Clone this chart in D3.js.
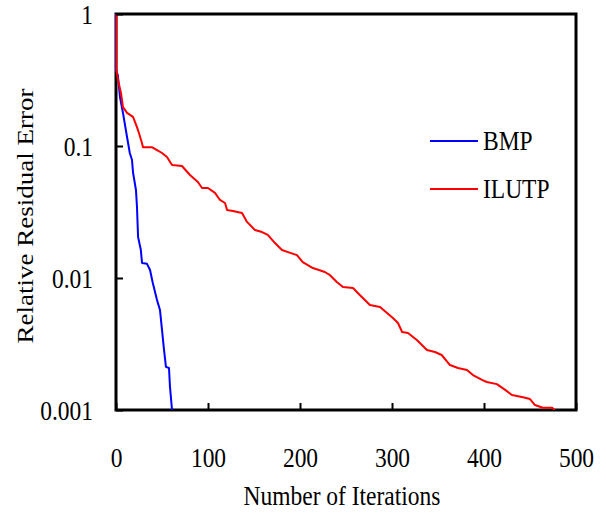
<!DOCTYPE html>
<html>
<head>
<meta charset="utf-8">
<script src="https://cdn.jsdelivr.net/npm/d3@7"></script>
<style>
  body { margin: 0; background: #fff; }
  svg text { font-family: "Liberation Serif", "Times New Roman", serif; fill: #000; }
</style>
</head>
<body>
<div id="chart"></div>
<script>
  // iterations / relative residual error
  var bmpIter = [0, 0, 2, 4.3, 7.6, 12, 15, 17.4, 18.5, 21.7, 22.8, 24, 27, 28.3, 33.7, 37, 40, 44.6, 47.8, 50, 52.2, 54.3, 57.6, 58.7, 60.9];
  var bmpErr = [1, 0.376, 0.345, 0.235, 0.178, 0.117, 0.0885, 0.0783, 0.063, 0.0464, 0.0345, 0.0205, 0.0163, 0.013, 0.0128, 0.0115, 0.00917, 0.0068, 0.00573, 0.00404, 0.00285, 0.00212, 0.00208, 0.00149, 0.001];

  var ilutpIter = [0.5, 0.5, 2.2, 5.4, 7.6, 12, 18.5, 22.8, 25, 28.3, 29.3, 39, 44.6, 50, 55.4, 60.9, 71.7, 80.4, 89, 93.5, 100,
    107.6, 113, 118.5, 120.7, 127, 137, 142.4, 151, 158.7, 165, 172.8, 180.4, 187, 196.7, 203, 214, 227, 232.6, 240,
    246.7, 257.6, 265, 276, 287, 294.6, 301, 306.5, 311, 317.4, 327, 338, 346.7, 354, 363, 371.7, 381.5, 388, 397.8,
    403, 414, 423, 430.4, 442.4, 450, 455.4, 464, 474, 477];
  var ilutpErr = [1, 0.376, 0.316, 0.252, 0.197, 0.178, 0.166, 0.139, 0.125, 0.105, 0.098, 0.098, 0.093, 0.0885, 0.0826, 0.0718, 0.0705, 0.0603, 0.0534, 0.0481, 0.0481,
    0.0441, 0.039, 0.037, 0.0327, 0.0322, 0.0311, 0.0266, 0.0231, 0.0223, 0.0212, 0.0184, 0.0163, 0.0157, 0.0149, 0.0132, 0.0119, 0.0111, 0.0105, 0.00933,
    0.00855, 0.0084, 0.00743, 0.00624, 0.00603, 0.00543, 0.00498, 0.00456, 0.0039, 0.00383, 0.00339, 0.00285, 0.00275, 0.00261, 0.00219, 0.00208, 0.00201, 0.00184, 0.00169,
    0.00163, 0.00157, 0.00142, 0.0013, 0.00125, 0.00121, 0.00109, 0.00104, 0.00104, 0.001];

  var seriesNames = ["BMP", "ILUTP"];
  var seriesColors = ["#0000ff", "#ff0000"];
  var xTicks = [0, 100, 200, 300, 400, 500];
  var yTicks = [1, 0.1, 0.01, 0.001];

  var width = 606, height = 514;
  var margin = {top: 14, right: 30, bottom: 104, left: 116};
  var w = width - margin.left - margin.right;
  var h = height - margin.top - margin.bottom;

  // the original text looks squeezed sideways (Times, narrow), so scale x a bit
  var fontSize = 27;
  var squeeze = 0.87;

  var svg = d3.select("#chart").append("svg")
    .attr("width", width)
    .attr("height", height);

  var g = svg.append("g")
    .attr("transform", "translate(" + margin.left + "," + margin.top + ")");

  var x = d3.scaleLinear().domain([0, 500]).range([0, w]);
  var y = d3.scaleLog().domain([0.001, 1]).range([h, 0]);

  g.append("clipPath").attr("id", "clip")
    .append("rect").attr("x", -1).attr("y", -1).attr("width", w + 2).attr("height", h + 1);

  // frame
  g.append("rect")
    .attr("width", w).attr("height", h)
    .attr("fill", "none").attr("stroke", "#000").attr("stroke-width", 3);

  var series = [
    bmpIter.map(function (d, i) { return [d, bmpErr[i]]; }),
    ilutpIter.map(function (d, i) { return [d, ilutpErr[i]]; })
  ];

  var line = d3.line()
    .x(function (d) { return x(d[0]); })
    .y(function (d) { return y(d[1]); });

  g.append("g").attr("clip-path", "url(#clip)")
    .selectAll("path")
    .data(series)
    .enter().append("path")
    .attr("d", line)
    .attr("fill", "none")
    .attr("stroke", function (d, i) { return seriesColors[i]; })
    .attr("stroke-width", 2)
    .attr("stroke-linejoin", "round");

  // axes, ticks point inward
  var xAxis = g.append("g")
    .attr("transform", "translate(0," + h + ")")
    .call(d3.axisBottom(x).tickValues(xTicks).tickSize(-7).tickPadding(0).tickFormat(d3.format("d")));
  var yAxis = g.append("g")
    .call(d3.axisLeft(y).tickValues(yTicks).tickSize(-7).tickPadding(0).tickFormat(function (d) { return String(d); }));

  [xAxis, yAxis].forEach(function (a) {
    a.select(".domain").remove();
    a.selectAll("line").attr("stroke", "#000").attr("stroke-width", 2);
    a.selectAll("text")
      .attr("font-size", fontSize)
      .attr("font-family", "Liberation Serif")
      .attr("fill", "#000")
      .attr("x", null).attr("y", null).attr("dy", null);
  });

  xAxis.selectAll(".tick text")
    .attr("text-anchor", "middle")
    .attr("transform", "translate(0,57) scale(" + squeeze + ",1)");
  yAxis.selectAll(".tick text")
    .attr("text-anchor", "end")
    .attr("transform", "translate(-23,9) scale(" + squeeze + ",1)");

  // axis titles
  svg.append("text")
    .attr("transform", "translate(342,505) scale(" + squeeze + ",1)")
    .attr("text-anchor", "middle")
    .attr("font-size", fontSize)
    .text("Number of Iterations");

  svg.append("text")
    .attr("transform", "translate(33,216) scale(" + squeeze + ",1) rotate(-90)")
    .attr("text-anchor", "middle")
    .attr("font-size", fontSize)
    .text("Relative Residual Error");

  // legend
  var legend = svg.append("g").attr("transform", "translate(430,141)");
  var item = legend.selectAll("g")
    .data(seriesNames)
    .enter().append("g")
    .attr("transform", function (d, i) { return "translate(0," + (i * 48) + ")"; });
  item.append("line")
    .attr("x1", 0).attr("x2", 48)
    .attr("stroke", function (d, i) { return seriesColors[i]; })
    .attr("stroke-width", 2);
  item.append("text")
    .attr("transform", "translate(53,9) scale(" + squeeze + ",1)")
    .attr("font-size", fontSize)
    .text(function (d) { return d; });
</script>
</body>
</html>
